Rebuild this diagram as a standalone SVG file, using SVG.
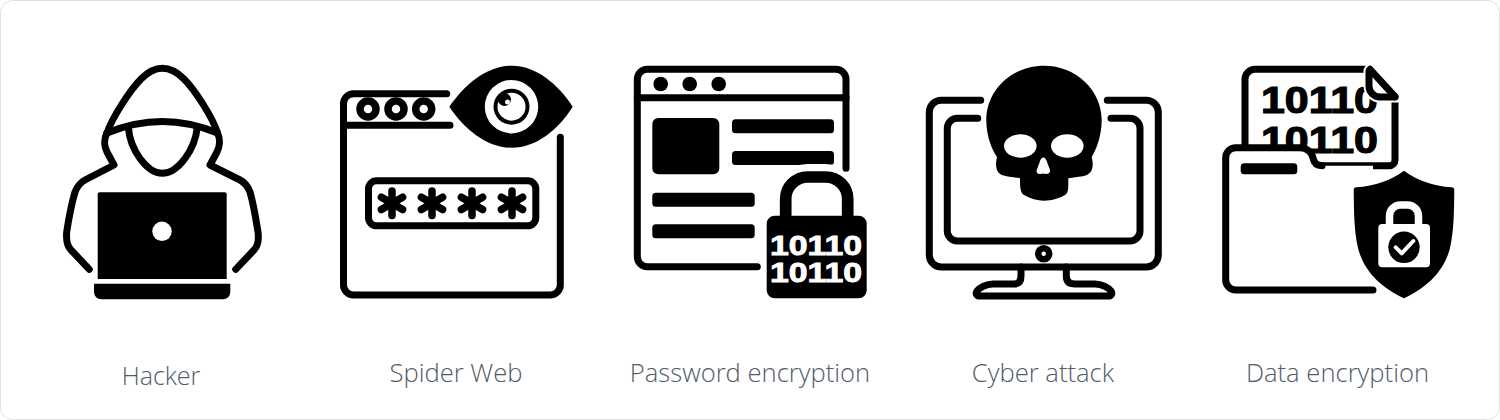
<svg xmlns="http://www.w3.org/2000/svg" width="1500" height="420" viewBox="0 0 1500 420">
<style>
.l{fill:none;stroke:#000;stroke-width:7;stroke-linecap:round;stroke-linejoin:round}
.f{fill:#000}
.w{fill:#fff}
.lab{font-family:"Open Sans","Liberation Sans",sans-serif;font-weight:300;font-size:25.6px;fill:#515c68;text-anchor:middle}
.b{font-family:"Liberation Sans",Arial,sans-serif;font-weight:700}
</style>
<rect x="0.5" y="0.5" width="1499" height="419" rx="12" fill="#fff" stroke="#e0e0e0"/>
<g id="hacker">
<path class="l" d="M107 133C112 118 130 90 141 79C148 72 155 68.3 162.300 68.300C170 68.300 177 72 184 79C195 90 213 118 217.500 133C221 140 219 148 217 152L210 165L240 180C246 183 248 187 250 192C254 206 256 220 258 232C259 240 258 246 254 250L235.700 269.300"/>
<path class="l" d="M107 133C103 140 105 148 107 152L114 165L85 180C79 183 77 187 75 192C71 206 68.500 220 66.700 232C66 240 67 246 71 250L89.300 269.300"/>
<path class="l" d="M107 133Q162.300 110 217.500 133"/>
<path class="l" d="M128.300 127C130 150 147 173.300 162.300 173.300C178 173.300 195 150 197.300 127"/>
<path class="f" d="M99.700 192.300H224.700a2 2 0 0 1 2 2V279H97.700V194.300a2 2 0 0 1 2-2Z"/>
<circle class="w" cx="162" cy="231.300" r="9.700"/>
<path class="f" d="M94 283.700H230.300V292a7.300 7.300 0 0 1-7.300 7.300H101.300A7.300 7.300 0 0 1 94 292Z"/>
<text class="lab" x="161" y="385" style="font-size:25px">Hacker</text>
</g>
<g id="spider-web">
<path class="l" d="M446.700 93.700H353.500a10 10 0 0 0-10 10V285a10 10 0 0 0 10 10H550.300a10 10 0 0 0 10-10V137.300"/>
<path class="l" d="M343.500 125.300H450"/>
<g class="l" style="stroke-width:7.500"><circle cx="368" cy="109" r="8"/><circle cx="396" cy="109" r="8"/><circle cx="423.700" cy="109" r="8"/></g>
<path class="f" d="M449.300 106.700C465 84 487 65.700 511.700 65.700C536 65.700 558 84 572.700 106.700C558 130 536 147.700 511.700 147.700C487 147.700 465 130 449.300 106.700Z"/>
<circle class="w" cx="511.500" cy="106.700" r="26.700"/>
<circle class="f" cx="511.500" cy="106.700" r="18"/>
<circle class="w" cx="511.500" cy="106.700" r="14"/>
<circle class="f" cx="504.500" cy="99.500" r="6.500"/>
<circle class="w" cx="507.500" cy="102" r="2.500"/>
<rect class="l" x="368.500" y="180.800" width="167.300" height="45" rx="8"/>
<g id="asterisks" class="l" style="stroke-width:7.500">
<path d="M392 191v24.600M381.400 197.200l21.200 12.300M381.400 209.500l21.200-12.300"/>
<path d="M432 191v24.600M421.400 197.200l21.200 12.300M421.400 209.500l21.200-12.300"/>
<path d="M472 191v24.600M461.400 197.200l21.200 12.300M461.400 209.500l21.200-12.300"/>
<path d="M512 191v24.600M501.400 197.200l21.200 12.300M501.400 209.500l21.200-12.300"/>
</g>
<text class="lab" x="456" y="382">Spider Web</text>
</g>
<g id="password-encryption">
<circle class="f" cx="660.700" cy="84" r="7.300"/><circle class="f" cx="689.700" cy="84" r="7.300"/><circle class="f" cx="718.700" cy="84" r="7.300"/>
<rect class="f" x="652.300" y="118" width="67" height="56.300" rx="6"/>
<rect class="f" x="732" y="119.300" width="102" height="14" rx="3.500"/>
<rect class="f" x="732" y="151" width="102" height="14" rx="3.500"/>
<rect class="f" x="652.300" y="192.700" width="102.400" height="14" rx="3.500"/>
<rect class="f" x="652.300" y="224.300" width="102.400" height="14" rx="3.500"/>
<path d="M785.700 218V199a22 22 0 0 1 22-22h18a22 22 0 0 1 22 22v19" fill="none" stroke="#fff" stroke-width="26"/>
<path class="l" d="M757.300 266.700H647.300a10 10 0 0 1-10-10V79.300a10 10 0 0 1 10-10H836a10 10 0 0 1 10 10V168.300"/>
<path class="l" d="M637.300 97.700H846"/>
<path d="M785.700 218V199a22 22 0 0 1 22-22h18a22 22 0 0 1 22 22v19" fill="none" stroke="#000" stroke-width="11.700"/>
<rect class="f" x="766.700" y="215.700" width="100" height="82.600" rx="8"/>
<g class="b" fill="#fff" stroke="#fff" stroke-width=".9" font-size="28.500"><text x="770" y="255" textLength="92" lengthAdjust="spacingAndGlyphs">10110</text><text x="770" y="282.300" textLength="92" lengthAdjust="spacingAndGlyphs">10110</text></g>
<text class="lab" x="750" y="382">Password encryption</text>
</g>
<g id="cyber-attack">
<path class="l" d="M980.700 100.300H941.300a12 12 0 0 0-12 12V255a12 12 0 0 0 12 12H1146.300a12 12 0 0 0 12-12V112.300a12 12 0 0 0-12-12H1107.300"/>
<path class="l" d="M977.700 118.300H957.300a10 10 0 0 0-10 10V231a10 10 0 0 0 10 10H1130a10 10 0 0 0 10-10V128.300a10 10 0 0 0-10-10H1111"/>
<circle cx="1043.700" cy="253.700" r="5.500" fill="none" stroke="#000" stroke-width="6.500"/>
<path class="l" d="M1021 267V276Q1021 284 1014 284H993C986 284 979 288 977 291C975 294 977 296 980 296H1108C1111 296 1113 294 1111 291C1109 288 1102 284 1095 284H1075Q1066.300 284 1066.300 276V267"/>
<path class="f" d="M1044 65.700C1012 65.700 986.300 90 986.300 120C986.300 136 992 150 997 157C995 165 996 173 1002 175C1007 177 1013 176.700 1020 178.300C1020 186 1020 193 1024 195C1031 199 1037 200.700 1044 200.700C1052 200.700 1060 198 1065 195C1069 193 1068.300 186 1068.300 178.300C1076 176.700 1082 177 1087 175C1093 172 1093.700 165 1091.700 157C1096 150 1101.700 136 1101.700 120C1101.700 90 1076 65.700 1044 65.700Z"/>
<ellipse class="w" cx="1020.300" cy="146" rx="16.300" ry="11.700"/>
<ellipse class="w" cx="1067.300" cy="146" rx="16.300" ry="11.700"/>
<path class="w" d="M1043.300 157.500C1045 157.500 1046 159 1047 162L1050 170C1050.500 173 1048 174 1046 174Q1043.300 173 1040.500 174C1038 174 1036 173 1036.700 170L1039.700 162C1040.500 159 1041.700 157.500 1043.300 157.500Z"/>
<text class="lab" x="1043" y="382">Cyber attack</text>
</g>
<g id="data-encryption">
<path class="l" d="M1245 145V79.300a10 10 0 0 1 10-10H1370L1395 96.700V160a5.700 5.700 0 0 1-5.700 5.700H1320"/>
<g class="b" fill="#000" stroke="#000" stroke-width="1.200" font-size="37"><text x="1261" y="113.300" textLength="117" lengthAdjust="spacingAndGlyphs">10110</text><text x="1261" y="153.300" textLength="117" lengthAdjust="spacingAndGlyphs">10110</text></g>
<path d="M1369 71V86a11 11 0 0 0 11 11H1395L1370 69.300Z" fill="#fff" stroke="#fff" stroke-width="11"/>
<path class="l" d="M1370 69.300L1395 96.700"/>
<path class="l" d="M1369 71V86a11 11 0 0 0 11 11H1395"/>
<path d="M1225.700 290V157.700a10 10 0 0 1 10-10H1300C1307 147.700 1312 153 1313 158C1314 163 1317 165.700 1322 165.700H1373V290Z" fill="#fff"/>
<path class="l" d="M1373 290H1235.700a10 10 0 0 1-10-10V157.700a10 10 0 0 1 10-10H1300C1307 147.700 1312 153 1313 158C1314 163 1317 165.700 1322 165.700"/>
<rect class="f" x="1240.700" y="163.300" width="56.600" height="11" rx="3.500"/>
<path d="M1404 170.700C1392 180 1375 186 1356 187.300Q1353.500 187.500 1353.700 190C1354 212 1354 230 1358 248C1364 272 1382 288 1404 298.300C1426 288 1444 272 1450 248C1454 230 1454 212 1454.300 190Q1454.500 187.500 1452 187.300C1433 186 1416 180 1404 170.700Z" fill="#fff" stroke="#fff" stroke-width="6"/>
<path class="f" d="M1404 170.700C1392 180 1375 186 1356 187.300Q1353.500 187.500 1353.700 190C1354 212 1354 230 1358 248C1364 272 1382 288 1404 298.300C1426 288 1444 272 1450 248C1454 230 1454 212 1454.300 190Q1454.500 187.500 1452 187.300C1433 186 1416 180 1404 170.700Z"/>
<path d="M1389.500 226V216a11 11 0 0 1 11-11h7a11 11 0 0 1 11 11v10" fill="none" stroke="#fff" stroke-width="7.500"/>
<rect class="w" x="1378.300" y="224" width="51.700" height="43.300" rx="4"/>
<circle class="f" cx="1404" cy="247.300" r="15.700"/>
<path d="M1395.700 247.300l6 6 11.600-12.300" fill="none" stroke="#fff" stroke-width="4" stroke-linecap="round" stroke-linejoin="round"/>
<text class="lab" x="1337.500" y="382">Data encryption</text>
</g>
</svg>
